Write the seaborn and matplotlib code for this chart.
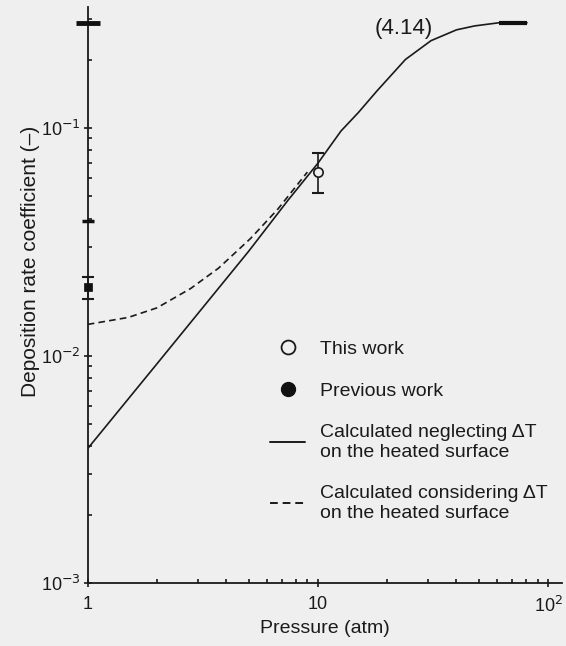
import numpy as np
import pandas as pd
import seaborn as sns
import matplotlib.pyplot as plt
from matplotlib.lines import Line2D

# === Data ===
solid_p = [1, 2, 5, 7.4, 10, 12.6, 15, 18, 24, 31, 40, 48, 61, 81]
solid_k = [0.0039, 0.0092, 0.0287, 0.048, 0.070, 0.097, 0.117, 0.145, 0.200, 0.242, 0.270, 0.281, 0.290, 0.290]

dashed_p = [1, 1.5, 2, 2.8, 3.7, 5.1, 6.7, 9]
dashed_k = [0.0137, 0.0147, 0.0162, 0.0197, 0.0242, 0.0327, 0.044, 0.064]

this_p = [10]
this_k = [0.064]
this_lo = [0.052]
this_hi = [0.078]

prev_p = [1]
prev_k = [0.020]
prev_lo = [0.0178]
prev_hi = [0.0221]

axis_marks = [0.039, 0.29]   # marks drawn on the ordinate

legend_labels = ["This work", "Previous work",
                 "Calculated neglecting \u0394T\non the heated surface",
                 "Calculated considering \u0394T\non the heated surface"]

# === Plot ===
sns.set_theme(style="ticks")
plt.rcParams["font.family"] = ["Liberation Sans", "DejaVu Sans"]
bg = "#efefef"
ink = "#1a1a1a"

fig = plt.figure(figsize=(5.66, 6.46), dpi=100, facecolor=bg)
ax = fig.add_axes([0.155, 0.0975, 0.838, 0.892])
ax.set_facecolor(bg)

solid = pd.DataFrame({"p": solid_p, "k": solid_k})
dashed = pd.DataFrame({"p": dashed_p, "k": dashed_k})
sns.lineplot(data=solid, x="p", y="k", color=ink, lw=1.2, ax=ax)
sns.lineplot(data=dashed, x="p", y="k", color=ink, lw=1.2, ax=ax,
             linestyle=(0, (4, 2.5)))
# thick end of the plateau
ax.plot(solid_p[-2:], solid_k[-2:], color="#111111", lw=3, solid_capstyle="butt")

# error bars
ax.errorbar(this_p, this_k,
            yerr=[np.subtract(this_k, this_lo), np.subtract(this_hi, this_k)],
            fmt="none", ecolor=ink, elinewidth=1.2, capsize=4, capthick=1.5)
ax.errorbar(prev_p, prev_k,
            yerr=[np.subtract(prev_k, prev_lo), np.subtract(prev_hi, prev_k)],
            fmt="none", ecolor=ink, elinewidth=1.2, capsize=4, capthick=1.5,
            clip_on=False)
sns.scatterplot(x=this_p, y=this_k, marker="o", s=45, facecolor=bg,
                edgecolor=ink, linewidth=1.2, ax=ax, zorder=5)
sns.scatterplot(x=prev_p, y=prev_k, marker="s", s=40, color="#111111",
                edgecolor="#111111", ax=ax, zorder=5, clip_on=False)
ax.plot([1], [axis_marks[0]], ls="none", marker="_",
        ms=9, mew=2.5, color="#111111", clip_on=False, zorder=6)
ax.plot([1], [axis_marks[1]], ls="none", marker="_", ms=17, mew=3.5,
        color="#111111", clip_on=False, zorder=6)

ax.set_xscale("log")
ax.set_yscale("log")
ax.set_xlim(1, 115)
ax.set_ylim(1e-3, 0.341)
ax.set_xticks([1, 10, 100])
ax.set_xticklabels(["1", "10", "10$^2$"])
ax.set_yticks([1e-3, 1e-2, 1e-1])
ax.set_yticklabels(["10$^{-3}$", "10$^{-2}$", "10$^{-1}$"])
ax.tick_params(which="major", direction="inout", length=6, width=1.2,
               labelsize=13, colors=ink, pad=6)
ax.tick_params(which="minor", direction="in", length=3, width=1.2, colors=ink)
ax.tick_params(axis="y", which="major", pad=2)
for s in ["top", "right"]:
    ax.spines[s].set_visible(False)
for s in ["left", "bottom"]:
    ax.spines[s].set_linewidth(1.3)
    ax.spines[s].set_color(ink)

ax.set_xlabel("Pressure (atm)", fontsize=14, color=ink, labelpad=3)
ax.set_ylabel("Deposition rate coefficient (\u2013)", fontsize=15,
              color=ink, labelpad=2)
ax.yaxis.set_label_coords(-0.1, 0.559)
ax.text(23.5, 0.275, "(4.14)", fontsize=16, ha="center", va="center", color=ink)

handles = [
    Line2D([], [], ls="none", marker="o", ms=10, mfc=bg, mec=ink, mew=1.3),
    Line2D([], [], ls="none", marker="o", ms=10, mfc="#111111", mec="#111111"),
    Line2D([], [], color=ink, lw=1.4),
    Line2D([], [], color=ink, lw=1.4, ls=(0, (4, 2.5))),
]
ax.legend(handles, legend_labels, loc="upper left", bbox_to_anchor=(0.348, 0.451),
          frameon=False, fontsize=14, handlelength=1.8, handletextpad=0.77,
          labelspacing=1.25, labelcolor=ink)

fig.savefig("out.png", dpi=100, facecolor=bg)
